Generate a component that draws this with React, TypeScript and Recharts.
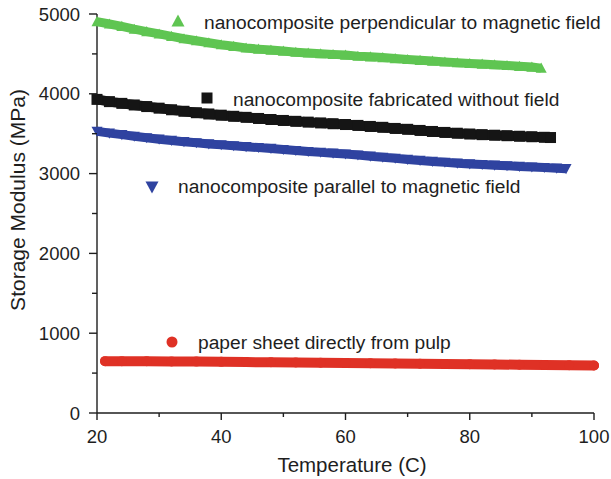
import { ScatterChart, Scatter, XAxis, YAxis } from 'recharts'

const perpT = [20, 22, 24, 26, 28, 30, 32, 34, 36, 38, 40, 42, 44, 46, 48, 50, 52, 54, 56, 58, 60, 62, 64, 66, 68, 70, 72, 74, 76, 78, 80, 82, 84, 86, 88, 90, 91.5]
const perpMPa = [4905, 4875, 4845, 4810, 4780, 4750, 4720, 4690, 4665, 4640, 4615, 4595, 4575, 4560, 4548, 4535, 4522, 4512, 4502, 4494, 4485, 4472, 4464, 4454, 4442, 4431, 4420, 4410, 4400, 4390, 4381, 4373, 4364, 4355, 4345, 4335, 4322]

const noFieldT = [20, 22, 24, 26, 28, 30, 32, 34, 36, 38, 40, 42, 44, 46, 48, 50, 52, 54, 56, 58, 60, 62, 64, 66, 68, 70, 72, 74, 76, 78, 80, 82, 84, 86, 88, 90, 92, 93]
const noFieldMPa = [3930, 3902, 3880, 3860, 3840, 3820, 3800, 3781, 3763, 3747, 3732, 3718, 3705, 3691, 3678, 3666, 3655, 3645, 3635, 3625, 3615, 3604, 3591, 3580, 3566, 3555, 3541, 3528, 3516, 3506, 3496, 3488, 3481, 3475, 3468, 3462, 3455, 3452]

const paraT = [20, 22, 24, 26, 28, 30, 32, 34, 36, 38, 40, 42, 44, 46, 48, 50, 52, 54, 56, 58, 60, 62, 64, 66, 68, 70, 72, 74, 76, 78, 80, 82, 84, 86, 88, 90, 92, 94, 95.5]
const paraMPa = [3530, 3507, 3488, 3468, 3449, 3431, 3415, 3400, 3386, 3372, 3360, 3348, 3337, 3326, 3315, 3302, 3289, 3277, 3266, 3256, 3245, 3232, 3218, 3204, 3191, 3177, 3165, 3152, 3141, 3131, 3121, 3113, 3105, 3098, 3090, 3082, 3075, 3068, 3062]

const paperT = [21.3, 24, 28, 32, 36, 40, 44, 48, 52, 56, 60, 64, 68, 72, 76, 80, 84, 88, 92, 96, 100]
const paperMPa = [650, 650, 648, 646, 644, 641, 638, 636, 633, 630, 627, 624, 621, 618, 615, 611, 608, 605, 602, 599, 596]

const xTicks = [20, 30, 40, 50, 60, 70, 80, 90, 100]
const yTicks = [0, 500, 1000, 1500, 2000, 2500, 3000, 3500, 4000, 4500, 5000]

const GREEN = '#5fc552'
const BLACK = '#151515'
const BLUE = '#2f43a0'
const RED = '#df3125'
const INK = '#1e1e1e'
const FONT = '"Liberation Sans", Arial, Helvetica, sans-serif'

const zip = (xs: number[], ys: number[]) => xs.map((x, i) => ({ x, y: ys[i] }))

const upTri = (cx: number, cy: number, s: number, fill: string) => (
  <polygon points={`${cx - s / 2},${cy + s * 0.42} ${cx + s / 2},${cy + s * 0.42} ${cx},${cy - s * 0.5}`} fill={fill} />
)
const downTri = (cx: number, cy: number, s: number, fill: string) => (
  <polygon points={`${cx - s / 2},${cy - s * 0.42} ${cx + s / 2},${cy - s * 0.42} ${cx},${cy + s * 0.5}`} fill={fill} />
)

function XTick(props: any) {
  const { x, y, payload } = props
  const major = payload.value % 20 === 0
  return (
    <g>
      <line x1={x} y1={y} x2={x} y2={y + (major ? 7 : 4)} stroke={INK} strokeWidth={1.4} />
      {major && (
        <text x={x} y={y + 23} textAnchor="middle" dominantBaseline="central" fontSize={18.5} fill={INK} fontFamily={FONT}>
          {payload.value}
        </text>
      )}
    </g>
  )
}

function YTick(props: any) {
  const { x, y, payload } = props
  const major = payload.value % 1000 === 0
  return (
    <g>
      <line x1={x - (major ? 8 : 5)} y1={y} x2={x} y2={y} stroke={INK} strokeWidth={1.4} />
      {major && (
        <text x={x - 17} y={y} textAnchor="end" dominantBaseline="central" fontSize={18.5} fill={INK} fontFamily={FONT}>
          {payload.value}
        </text>
      )}
    </g>
  )
}

export default function App() {
  return (
    <div style={{ position: 'absolute', left: 0, top: 0, width: 611, height: 479, background: '#fff' }}>
      <ScatterChart width={611} height={479} margin={{ top: 14, right: 17, bottom: 0, left: 0 }}>
        <XAxis
          type="number"
          dataKey="x"
          domain={[20, 100]}
          ticks={xTicks}
          interval={0}
          height={66}
          tickSize={0}
          tickMargin={0}
          tick={<XTick />}
          axisLine={{ stroke: INK, strokeWidth: 1.4 }}
        />
        <YAxis
          type="number"
          dataKey="y"
          domain={[0, 5000]}
          ticks={yTicks}
          interval={0}
          width={97}
          tickSize={0}
          tickMargin={0}
          tick={<YTick />}
          axisLine={{ stroke: INK, strokeWidth: 1.4 }}
        />
        <Scatter
          data={zip(perpT, perpMPa)}
          isAnimationActive={false}
          line={{ stroke: GREEN, strokeWidth: 9 }}
          shape={(p: any) => upTri(p.cx, p.cy, 11, GREEN)}
        />
        <Scatter
          data={zip(noFieldT, noFieldMPa)}
          isAnimationActive={false}
          line={{ stroke: BLACK, strokeWidth: 10 }}
          shape={(p: any) => <rect x={p.cx - 5.5} y={p.cy - 5.5} width={11} height={11} fill={BLACK} />}
        />
        <Scatter
          data={zip(paraT, paraMPa)}
          isAnimationActive={false}
          line={{ stroke: BLUE, strokeWidth: 9 }}
          shape={(p: any) => downTri(p.cx, p.cy, 11, BLUE)}
        />
        <Scatter
          data={zip(paperT, paperMPa)}
          isAnimationActive={false}
          line={{ stroke: RED, strokeWidth: 10, strokeLinecap: 'round' }}
          shape={(p: any) => <circle cx={p.cx} cy={p.cy} r={5} fill={RED} />}
        />
      </ScatterChart>
      <svg width={611} height={479} style={{ position: 'absolute', left: 0, top: 0, pointerEvents: 'none' }}>
        <g fontFamily={FONT} fontSize={19.2} fill={INK}>
          {upTri(178, 21, 13, GREEN)}
          <text x={204} y={22} dominantBaseline="central">nanocomposite perpendicular to magnetic field</text>
          <rect x={201.5} y={92.5} width={11} height={11} fill={BLACK} />
          <text x={233} y={99} dominantBaseline="central">nanocomposite fabricated without field</text>
          {downTri(152, 187, 13, BLUE)}
          <text x={178} y={186} dominantBaseline="central">nanocomposite parallel to magnetic field</text>
          <circle cx={172} cy={342} r={5.5} fill={RED} />
          <text x={198} y={342} dominantBaseline="central">paper sheet directly from pulp</text>
        </g>
        <text x={352} y={464} textAnchor="middle" dominantBaseline="central" fontSize={20.5} fill={INK} fontFamily={FONT}>
          Temperature (C)
        </text>
        <text
          x={17}
          y={200}
          transform="rotate(-90 17 200)"
          textAnchor="middle"
          dominantBaseline="central"
          fontSize={21}
          fill={INK}
          fontFamily={FONT}
        >
          Storage Modulus (MPa)
        </text>
      </svg>
    </div>
  )
}
